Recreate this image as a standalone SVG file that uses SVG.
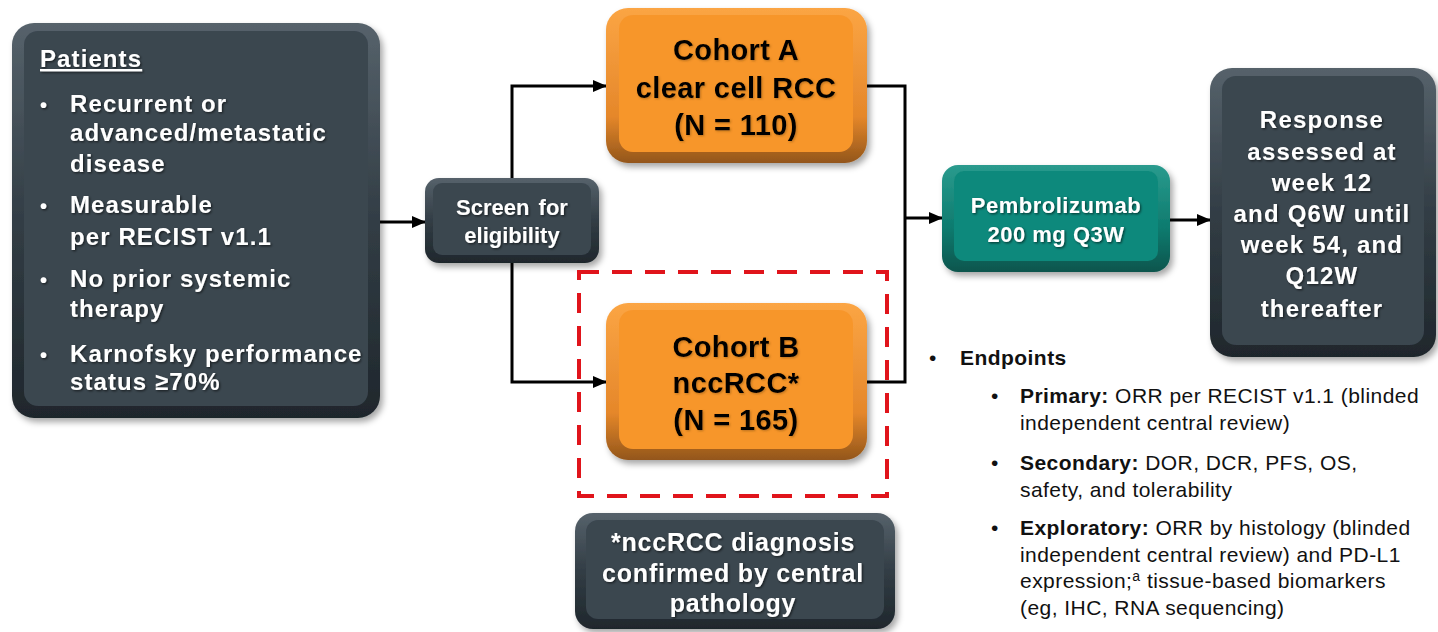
<svg xmlns="http://www.w3.org/2000/svg" width="1438" height="632" viewBox="0 0 1438 632">
<defs>
<linearGradient id="gOr" x1="0" y1="0" x2="0" y2="1">
<stop offset="0" stop-color="#fba544"/><stop offset="0.7" stop-color="#e5872a"/><stop offset="1" stop-color="#93561b"/>
</linearGradient>
<linearGradient id="gDk" x1="0" y1="0" x2="0" y2="1">
<stop offset="0" stop-color="#56626b"/><stop offset="0.5" stop-color="#323d45"/><stop offset="1" stop-color="#1f272c"/>
</linearGradient>
<linearGradient id="gTl" x1="0" y1="0" x2="0" y2="1">
<stop offset="0" stop-color="#2a9b8e"/><stop offset="0.6" stop-color="#0d7a6e"/><stop offset="1" stop-color="#0a554d"/>
</linearGradient>
<filter id="sh" x="-10%" y="-10%" width="125%" height="130%">
<feDropShadow dx="3" dy="4" stdDeviation="3" flood-color="#000" flood-opacity="0.35"/>
</filter>
<filter id="ts" x="-5%" y="-20%" width="110%" height="150%">
<feDropShadow dx="1.2" dy="1.2" stdDeviation="0.8" flood-color="#000" flood-opacity="0.6"/>
</filter>
<filter id="tsl" x="-5%" y="-20%" width="110%" height="150%">
<feDropShadow dx="1" dy="1" stdDeviation="0.8" flood-color="#7a4a10" flood-opacity="0.5"/>
</filter>
<marker id="ah" markerUnits="userSpaceOnUse" markerWidth="14" markerHeight="12" refX="13" refY="6" orient="auto">
<path d="M0,0 L14,6 L0,12 z" fill="#000"/>
</marker>
</defs>
<style>
.dk-o{fill:url(#gDk)} .dk-i{fill:#3b4650}
.or-o{fill:url(#gOr)} .or-i{fill:#f7962c}
.tl-o{fill:url(#gTl)} .tl-i{fill:#10897b}
.wt{font-family:"Liberation Sans",Arial,sans-serif;font-weight:bold;fill:#fff}
.bk{font-family:"Liberation Sans",Arial,sans-serif;font-weight:bold;fill:#000}
.ep{font-family:"Liberation Sans",Arial,sans-serif;fill:#111;font-size:21px;letter-spacing:0.45px}
.ep .b{font-weight:bold}
.con{fill:none;stroke:#000;stroke-width:3}
</style>
<rect width="1438" height="632" fill="#fff"/>

<g id="connectors">
<path class="con" d="M380,222 H425" marker-end="url(#ah)"/>
<path class="con" d="M512,180 V86 H606" marker-end="url(#ah)"/>
<path class="con" d="M512,262 V382 H606" marker-end="url(#ah)"/>
<path class="con" d="M866,86 H905 V382 H866"/>
<path class="con" d="M905,218 H942" marker-end="url(#ah)"/>
<path class="con" d="M1170,220 H1210" marker-end="url(#ah)"/>
</g>

<g id="patients">
<g filter="url(#sh)">
<rect class="dk-o" x="12" y="23" width="368" height="395" rx="22"/>
<rect class="dk-i" x="24" y="31" width="344" height="375" rx="14"/>
</g>
<g class="wt" font-size="24" letter-spacing="1.1" filter="url(#ts)">
<text x="40" y="67" text-decoration="underline">Patients</text>
<text x="40" y="112" font-size="20">•</text><text x="70" y="112">Recurrent or</text>
<text x="70" y="141">advanced/metastatic</text>
<text x="70" y="172">disease</text>
<text x="40" y="213" font-size="20">•</text><text x="70" y="213">Measurable</text>
<text x="70" y="245">per RECIST v1.1</text>
<text x="40" y="287" font-size="20">•</text><text x="70" y="287">No prior systemic</text>
<text x="70" y="317">therapy</text>
<text x="40" y="362" font-size="20">•</text><text x="70" y="362">Karnofsky performance</text>
<text x="70" y="390">status ≥70%</text>
</g>
</g>

<g id="screen">
<g filter="url(#sh)">
<rect class="dk-o" x="425" y="178" width="174" height="85" rx="14"/>
<rect class="dk-i" x="433" y="183" width="158" height="72" rx="9"/>
</g>
<g class="wt" font-size="22" text-anchor="middle" filter="url(#ts)">
<text x="512" y="215" word-spacing="3">Screen for</text>
<text x="512" y="243">eligibility</text>
</g>
</g>

<g id="cohortA">
<g filter="url(#sh)">
<rect class="or-o" x="606" y="8" width="261" height="155" rx="22"/>
<rect class="or-i" x="619" y="15" width="234" height="137" rx="14"/>
</g>
<g class="bk" font-size="29" letter-spacing="0.4" text-anchor="middle" filter="url(#tsl)">
<text x="736" y="60">Cohort A</text>
<text x="736" y="98">clear cell RCC</text>
<text x="736" y="135">(N = 110)</text>
</g>
</g>

<g id="cohortB">
<g filter="url(#sh)">
<rect class="or-o" x="606" y="303" width="261" height="157" rx="22"/>
<rect class="or-i" x="619" y="310" width="234" height="139" rx="14"/>
</g>
<g class="bk" font-size="29" letter-spacing="0.4" text-anchor="middle" filter="url(#tsl)">
<text x="736" y="357">Cohort B</text>
<text x="736" y="393">nccRCC*</text>
<text x="736" y="430">(N = 165)</text>
</g>
</g>

<g id="highlight">
<rect x="579" y="272" width="308" height="224" fill="none" stroke="#e0141b" stroke-width="4" stroke-dasharray="20 13"/>
</g>

<g id="pembrolizumab">
<g filter="url(#sh)">
<rect class="tl-o" x="942" y="165" width="228" height="107" rx="16"/>
<rect class="tl-i" x="954" y="171" width="204" height="90" rx="10"/>
</g>
<g class="wt" font-size="22" letter-spacing="0.5" text-anchor="middle" filter="url(#ts)">
<text x="1056" y="213">Pembrolizumab</text>
<text x="1056" y="242">200 mg Q3W</text>
</g>
</g>

<g id="response">
<g filter="url(#sh)">
<rect class="dk-o" x="1210" y="68" width="226" height="289" rx="22"/>
<rect class="dk-i" x="1222" y="76" width="202" height="269" rx="14"/>
</g>
<g class="wt" font-size="24" letter-spacing="1.2" text-anchor="middle" filter="url(#ts)">
<text x="1322" y="128">Response</text>
<text x="1322" y="160">assessed at</text>
<text x="1322" y="191">week 12</text>
<text x="1322" y="222">and Q6W until</text>
<text x="1322" y="253">week 54, and</text>
<text x="1322" y="284">Q12W</text>
<text x="1322" y="317">thereafter</text>
</g>
</g>

<g id="footnote">
<g filter="url(#sh)">
<rect class="dk-o" x="575" y="513" width="320" height="116" rx="18"/>
<rect class="dk-i" x="586" y="520" width="298" height="99" rx="12"/>
</g>
<g class="wt" font-size="25" letter-spacing="0.8" text-anchor="middle" filter="url(#ts)">
<text x="733" y="551">*nccRCC diagnosis</text>
<text x="733" y="582">confirmed by central</text>
<text x="733" y="612">pathology</text>
</g>
</g>

<g id="endpoints" class="ep">
<text x="929" y="365">•</text>
<text x="960" y="365" class="b">Endpoints</text>
<text x="991" y="403">•</text>
<text x="1020" y="403"><tspan class="b">Primary:</tspan> ORR per RECIST v1.1 (blinded</text>
<text x="1020" y="430">independent central review)</text>
<text x="991" y="470">•</text>
<text x="1020" y="470"><tspan class="b">Secondary:</tspan> DOR, DCR, PFS, OS,</text>
<text x="1020" y="497">safety, and tolerability</text>
<text x="991" y="535">•</text>
<text x="1020" y="535"><tspan class="b">Exploratory:</tspan> ORR by histology (blinded</text>
<text x="1020" y="562">independent central review) and PD-L1</text>
<text x="1020" y="588">expression;<tspan font-size="14" dy="-7">a</tspan><tspan dy="7"> tissue-based biomarkers</tspan></text>
<text x="1020" y="615">(eg, IHC, RNA sequencing)</text>
</g>
</svg>
